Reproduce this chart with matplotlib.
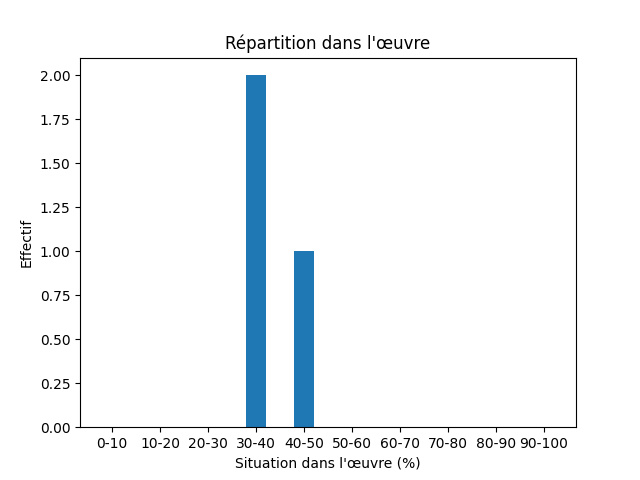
import matplotlib
matplotlib.use('Agg')
import matplotlib.pyplot as plt

categories = ['0-10', '10-20', '20-30', '30-40', '40-50', '50-60', '60-70', '70-80', '80-90', '90-100']
counts = [0, 0, 0, 2, 1, 0, 0, 0, 0, 0]

fig, ax = plt.subplots(figsize=(6.4, 4.8), dpi=100)
ax.bar(categories, counts, width=0.4)
ax.set_title("Répartition dans l'œuvre")
ax.set_xlabel("Situation dans l'œuvre (%)")
ax.set_ylabel("Effectif")
fig.savefig('out.png')
